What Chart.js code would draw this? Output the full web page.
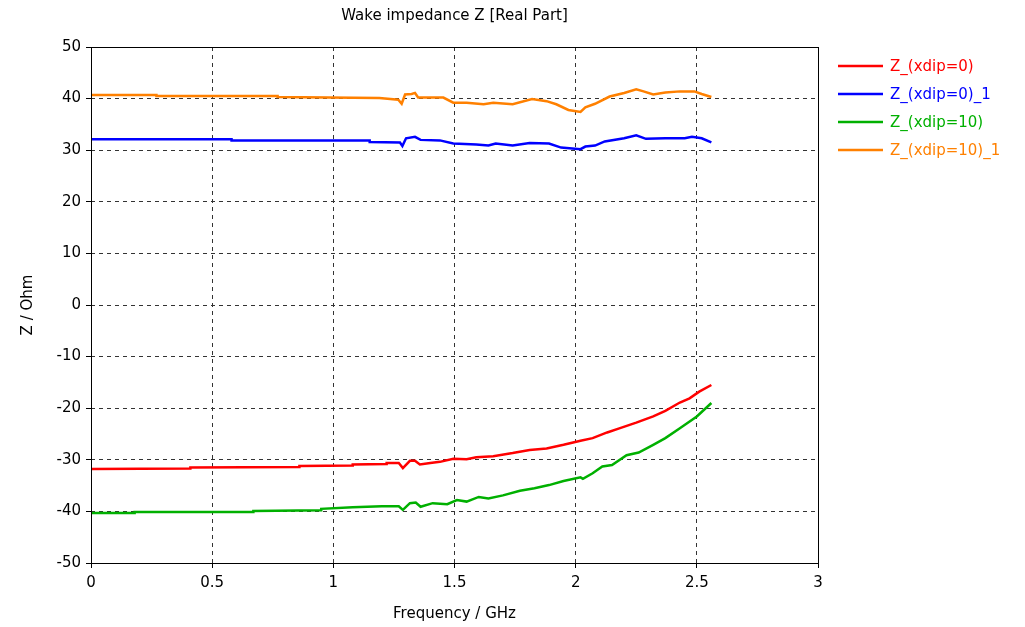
<!DOCTYPE html>
<html>
<head>
<meta charset="utf-8">
<script src="https://cdn.jsdelivr.net/npm/chart.js@4/dist/chart.umd.min.js"></script>
<style>
  body { margin:0; background:#fff; }
  canvas { display:block; }
</style>
</head>
<body>
<canvas id="wake-chart" width="1025" height="627"></canvas>
<script>
// --- Data (frequency in GHz, Z in Ohm) ---
const seriesLabels = ['Z_(xdip=0)', 'Z_(xdip=0)_1', 'Z_(xdip=10)', 'Z_(xdip=10)_1'];
const seriesColors = ['#ff0000', '#0000ff', '#00b000', '#ff8000'];

const redF = [0, 0.41, 0.41, 0.86, 0.86, 1.08, 1.08, 1.22, 1.22, 1.27, 1.287, 1.316, 1.337, 1.357, 1.4, 1.44, 1.495, 1.55, 1.59, 1.66, 1.74, 1.81, 1.88, 1.95, 2.02, 2.07, 2.13, 2.18, 2.25, 2.32, 2.37, 2.43, 2.47, 2.51, 2.56];
const redZ = [-31.8, -31.7, -31.5, -31.4, -31.2, -31.1, -30.9, -30.8, -30.6, -30.6, -31.6, -30.2, -30.2, -30.9, -30.6, -30.4, -29.8, -29.9, -29.5, -29.3, -28.7, -28.1, -27.8, -27.1, -26.3, -25.8, -24.7, -23.9, -22.8, -21.6, -20.5, -18.9, -18.1, -16.8, -15.5];

const blueF = [0, 0.58, 0.58, 1.15, 1.15, 1.275, 1.285, 1.3, 1.337, 1.36, 1.44, 1.495, 1.59, 1.64, 1.67, 1.74, 1.81, 1.89, 1.94, 2.02, 2.04, 2.08, 2.12, 2.2, 2.25, 2.29, 2.37, 2.45, 2.48, 2.52, 2.56];
const blueZ = [32.1, 32.1, 31.9, 31.9, 31.6, 31.5, 30.8, 32.3, 32.6, 32.0, 31.9, 31.3, 31.1, 30.9, 31.3, 30.9, 31.4, 31.3, 30.5, 30.2, 30.7, 30.9, 31.7, 32.3, 32.9, 32.2, 32.3, 32.3, 32.6, 32.3, 31.5];

const greenF = [0, 0.18, 0.18, 0.67, 0.67, 0.95, 0.95, 1.08, 1.2, 1.27, 1.287, 1.316, 1.34, 1.36, 1.41, 1.47, 1.51, 1.55, 1.6, 1.64, 1.7, 1.77, 1.83, 1.89, 1.95, 2.02, 2.03, 2.07, 2.11, 2.15, 2.21, 2.26, 2.32, 2.37, 2.43, 2.5, 2.56];
const greenZ = [-40.3, -40.3, -40.1, -40.1, -39.9, -39.8, -39.5, -39.2, -39.0, -39.0, -39.7, -38.4, -38.3, -39.1, -38.4, -38.6, -37.8, -38.1, -37.2, -37.5, -36.9, -36.0, -35.5, -34.9, -34.1, -33.4, -33.7, -32.6, -31.3, -31.0, -29.1, -28.6, -27.1, -25.8, -23.9, -21.6, -19.0];

const orangeF = [0, 0.27, 0.27, 0.77, 0.77, 1.19, 1.268, 1.282, 1.296, 1.323, 1.337, 1.35, 1.454, 1.495, 1.55, 1.62, 1.66, 1.74, 1.82, 1.88, 1.92, 1.97, 2.02, 2.04, 2.08, 2.14, 2.2, 2.25, 2.28, 2.32, 2.37, 2.43, 2.49, 2.52, 2.56];
const orangeZ = [40.7, 40.7, 40.5, 40.5, 40.3, 40.1, 39.8, 39.0, 40.8, 40.9, 41.1, 40.2, 40.2, 39.2, 39.2, 38.9, 39.2, 38.9, 39.9, 39.5, 38.9, 37.8, 37.4, 38.3, 39.0, 40.4, 41.1, 41.8, 41.4, 40.8, 41.2, 41.4, 41.4, 40.9, 40.3];

const xTicks = [0, 0.5, 1, 1.5, 2, 2.5, 3];
const yTicks = [-50, -40, -30, -20, -10, 0, 10, 20, 30, 40, 50];

const FONT = "'DejaVu Sans', sans-serif";

function toPoints(fs, zs) {
  return fs.map((f, i) => ({ x: f, y: zs[i] }));
}

// --- title, box and legend drawn by hand ---
const decor = {
  id: 'decor',
  afterDraw(chart) {
    const { ctx, chartArea: a } = chart;
    ctx.save();
    ctx.strokeStyle = '#000';
    ctx.lineWidth = 1;
    ctx.setLineDash([]);
    ctx.strokeRect(a.left + 0.5, a.top + 0.5, a.right - a.left, a.bottom - a.top);

    ctx.font = '15px ' + FONT;
    ctx.fillStyle = '#000';
    ctx.textAlign = 'center';
    ctx.textBaseline = 'middle';
    ctx.fillText('Wake impedance Z [Real Part]', (a.left + a.right) / 2, 16);

    ctx.textAlign = 'left';
    chart.data.datasets.forEach((ds, i) => {
      const y = 66 + i * 28;
      ctx.strokeStyle = ds.borderColor;
      ctx.lineWidth = 2.5;
      ctx.beginPath();
      ctx.moveTo(838, y);
      ctx.lineTo(883, y);
      ctx.stroke();
      ctx.fillStyle = ds.borderColor;
      ctx.fillText(ds.label, 890, y + 1);
    });
    ctx.restore();
  }
};

const allF = [redF, blueF, greenF, orangeF];
const allZ = [redZ, blueZ, greenZ, orangeZ];

new Chart(document.getElementById('wake-chart'), {
  type: 'line',
  data: {
    datasets: seriesLabels.map((label, i) => ({
      label,
      data: toPoints(allF[i], allZ[i]),
      borderColor: seriesColors[i],
      backgroundColor: seriesColors[i],
      borderWidth: 2.5,
      pointRadius: 0,
      tension: 0,
      fill: false
    }))
  },
  options: {
    responsive: false,
    animation: false,
    layout: { padding: { left: 0, right: 207, top: 47, bottom: 0 } },
    plugins: { legend: { display: false }, title: { display: false }, tooltip: { enabled: false } },
    scales: {
      x: {
        type: 'linear',
        min: 0, max: 3,
        afterBuildTicks: s => { s.ticks = xTicks.map(v => ({ value: v })); },
        afterFit: s => { s.height = 64; },
        ticks: { color: '#000', font: { family: FONT, size: 15 }, padding: 6, maxRotation: 0, callback: v => String(v) },
        grid: { color: '#333', lineWidth: 1, tickLength: 5, tickColor: '#000', tickBorderDash: [] },
        border: { display: false, dash: [4, 4] },
        title: { display: true, text: 'Frequency / GHz', color: '#000', font: { family: FONT, size: 15 }, padding: { top: 0, bottom: 4 } }
      },
      y: {
        min: -50, max: 50,
        afterBuildTicks: s => { s.ticks = yTicks.map(v => ({ value: v })); },
        afterFit: s => { s.width = 91; },
        ticks: { color: '#000', font: { family: FONT, size: 15 }, padding: 5, callback: v => String(v) },
        grid: { color: '#333', lineWidth: 1, tickLength: 5, tickColor: '#000', tickBorderDash: [] },
        border: { display: false, dash: [4, 4] },
        title: { display: true, text: 'Z / Ohm', color: '#000', font: { family: FONT, size: 15 }, padding: { top: 19, bottom: 0 } }
      }
    }
  },
  plugins: [decor]
});
</script>
</body>
</html>
